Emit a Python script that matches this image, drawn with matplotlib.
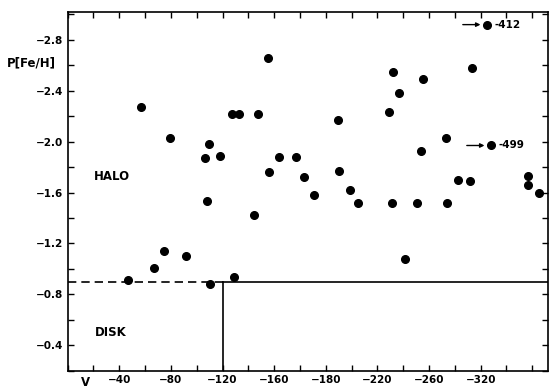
import matplotlib
matplotlib.use("agg")
from matplotlib import pyplot as plt
from matplotlib.ticker import MultipleLocator, FixedLocator

# V velocity (km/s) and P[Fe/H]
v = [-46.5, -66.7, -74.4, -91.5, -56.8, -79.3, -106.7, -109.5, -108.0, -110.5,
     -118.3, -127.1, -132.8, -128.7, -144.7, -147.5, -155.3, -155.8, -163.6, -177.0,
     -183.0, -190.7, -209.8, -210.5, -218.8, -225.0, -248.8, -251.9, -257.0, -251.4,
     -261.7, -270.5, -273.9, -275.4, -293.3, -294.0, -302.6, -312.1, -313.4, -325.0,
     -328.1, -356.6, -356.6, -365.3]
feh = [-0.91, -1.01, -1.14, -1.10, -2.27, -2.03, -1.87, -1.98, -1.53, -0.88,
       -1.89, -2.22, -2.22, -0.94, -1.42, -2.22, -2.66, -1.76, -1.88, -1.88,
       -1.72, -1.58, -2.17, -1.77, -1.62, -1.52, -2.23, -2.55, -2.38, -1.52,
       -1.08, -1.52, -1.93, -2.49, -2.03, -1.52, -1.70, -1.69, -2.58, -2.92,
       -1.97, -1.73, -1.66, -1.60]

# points that sit off-scale, marked with an arrow and their true V
off_v = [-325.0, -328.1]
off_feh = [-2.92, -1.97]
off_labels = ["-412", "-499"]

xtick_pos = [-40, -80, -120, -160, -200, -240, -280, -320]
xtick_labels = ["\u221240", "\u221280", "\u2212120", "\u2212160",
                "\u2212180", "\u2212220", "\u2212260", "\u2212320"]
ytick_pos = [-2.8, -2.4, -2.0, -1.6, -1.2, -0.8, -0.4]

disk_feh = -0.9
disk_v = -120

fig = plt.figure(figsize=(5.5, 3.9), dpi=100)
ax = fig.add_axes([0.123, 0.0495, 0.873, 0.92])

ax.plot(v, feh, "o", color="black", markersize=5.5)

# halo / disk boundary
ax.plot([0, disk_v], [disk_feh, disk_feh], color="black", lw=1.2, ls=(0, (5, 3)))
ax.plot([disk_v, -372], [disk_feh, disk_feh], color="black", lw=1.2)
ax.plot([disk_v, disk_v], [disk_feh, -0.2], color="black", lw=1.2)

for x, y, lab in zip(off_v, off_feh, off_labels):
    ax.annotate("", xy=(x + 3, y), xytext=(x + 21, y),
                arrowprops=dict(arrowstyle="-|>", color="black", lw=1, mutation_scale=6))
    ax.text(x - 6, y, lab, fontsize=7.5, fontweight="bold", va="center", ha="left")

ax.text(-20, -1.73, "HALO", fontsize=8.5, fontweight="bold", va="center")
ax.text(-21, -0.5, "DISK", fontsize=8.5, fontweight="bold", va="center")

ax.set_xlim(0, -372)
ax.set_ylim(-0.2, -3.02)

ax.xaxis.set_major_locator(FixedLocator(xtick_pos))
ax.set_xticklabels(xtick_labels)
ax.xaxis.set_minor_locator(MultipleLocator(20))
ax.yaxis.set_major_locator(FixedLocator(ytick_pos))
ax.yaxis.set_minor_locator(MultipleLocator(0.2))
ax.tick_params(which="both", direction="in", top=True, right=True, length=4, width=1)
ax.tick_params(axis="x", pad=3)
ax.tick_params(axis="y", pad=3)
for lab in ax.get_xticklabels() + ax.get_yticklabels():
    lab.set_fontsize(7.5)
    lab.set_fontweight("bold")
for s in ax.spines.values():
    s.set_linewidth(1.2)

fig.text(0.012, 0.838, "P[Fe/H]", fontsize=8.5, fontweight="bold", va="center")
fig.text(0.148, 0.018, "V", fontsize=8.5, fontweight="bold", va="center")

fig.savefig("out.png", dpi=100)
